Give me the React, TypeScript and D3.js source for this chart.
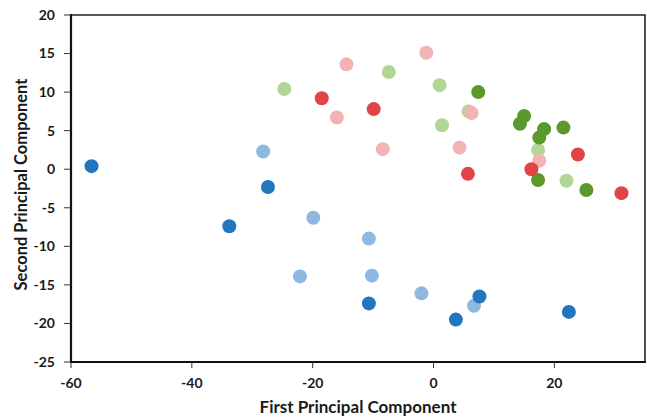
import * as d3 from "d3";

const W = 647, H = 418;
const M = { top: 15, right: 2, bottom: 56, left: 71 };

// [PC1, PC2] per group
const lightGreen: [number, number][] = [
  [-24.7, 10.4], [-7.4, 12.6], [1.0, 10.9], [1.4, 5.7], [5.8, 7.5], [17.3, 2.5], [22.0, -1.5],
];
const darkGreen: [number, number][] = [
  [7.4, 10.0], [15.0, 6.9], [14.3, 5.9], [18.3, 5.2], [17.5, 4.1], [21.5, 5.4], [17.3, -1.4], [25.3, -2.7],
];
const pink: [number, number][] = [
  [-14.4, 13.6], [-1.2, 15.1], [-16.0, 6.7], [-8.4, 2.6], [4.3, 2.8], [6.3, 7.3], [17.5, 1.1],
];
const red: [number, number][] = [
  [-18.5, 9.2], [-9.9, 7.8], [5.7, -0.6], [16.2, 0.0], [23.9, 1.9], [31.1, -3.1],
];
const lightBlue: [number, number][] = [
  [-28.2, 2.3], [-19.9, -6.3], [-22.1, -13.9], [-10.7, -9.0], [-10.2, -13.8], [-2.0, -16.1], [6.7, -17.7],
];
const darkBlue: [number, number][] = [
  [-56.6, 0.4], [-27.4, -2.3], [-33.8, -7.4], [-10.7, -17.4], [3.7, -19.5], [7.6, -16.5], [22.4, -18.5],
];

const groups = [
  { pts: lightGreen, color: "#B2D697" },
  { pts: darkGreen, color: "#5A9A2C" },
  { pts: pink, color: "#F3B3B3" },
  { pts: red, color: "#E04444" },
  { pts: lightBlue, color: "#8DB8E0" },
  { pts: darkBlue, color: "#2176BE" },
];

const xTicks = [-60, -40, -20, 0, 20];
const yTicks = [20, 15, 10, 5, 0, -5, -10, -15, -20, -25];

const FONT = "Lato, 'Open Sans', sans-serif";

export default function App() {
  const x = d3.scaleLinear([-60, 35], [M.left, W - M.right]);
  const y = d3.scaleLinear([-25, 20], [H - M.bottom, M.top]);
  const x0 = M.left, x1 = W - M.right, y0 = H - M.bottom, y1 = M.top;

  return (
    <div style={{ position: "absolute", left: 0, top: 0 }}>
      <svg width={W} height={H} style={{ display: "block", background: "#fff" }}>
        {/* frame top/right */}
        <path d={`M${x0},${y1}H${x1}V${y0}`} fill="none" stroke="#222" strokeWidth={1.6} />

        {groups.map((g, gi) => (
          <g key={gi}>
            {g.pts.map(([px, py], i) => (
              <circle key={i} cx={x(px)} cy={y(py)} r={7} fill={g.color} />
            ))}
          </g>
        ))}

        {/* axes */}
        <line x1={x0} y1={y1 - 1} x2={x0} y2={y0 + 1} stroke="#111" strokeWidth={2.2} />
        <line x1={x0 - 1} y1={y0} x2={x1 + 1} y2={y0} stroke="#111" strokeWidth={2.2} />

        {yTicks.map((t) => (
          <g key={t}>
            <line x1={x0 - 7} x2={x0} y1={y(t)} y2={y(t)} stroke="#333" strokeWidth={1} />
            <text x={x0 - 16} y={y(t)} dy="0.35em" textAnchor="end"
              style={{ fontFamily: FONT, fontWeight: 700, fontSize: 14, fill: "#1a1a1a" }}>
              {t}
            </text>
          </g>
        ))}
        {xTicks.map((t) => (
          <g key={t}>
            <line x1={x(t)} x2={x(t)} y1={y0} y2={y0 + 6} stroke="#333" strokeWidth={1} />
            <text x={x(t)} y={y0 + 26} textAnchor="middle"
              style={{ fontFamily: FONT, fontWeight: 700, fontSize: 14, fill: "#1a1a1a" }}>
              {t}
            </text>
          </g>
        ))}

        <text x={(x0 + x1) / 2} y={413} textAnchor="middle"
          style={{ fontFamily: FONT, fontWeight: 700, fontSize: 17, fill: "#1a1a1a" }}>
          First Principal Component
        </text>
        <text transform={`translate(27,${(y0 + y1) / 2 - 4}) rotate(-90)`} textAnchor="middle"
          style={{ fontFamily: FONT, fontWeight: 700, fontSize: 16.5, fill: "#1a1a1a" }}>
          Second Principal Component
        </text>
      </svg>
    </div>
  );
}
